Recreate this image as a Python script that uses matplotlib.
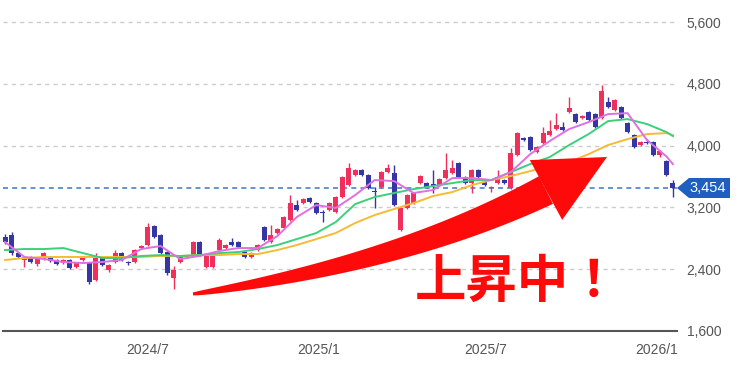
import numpy as np
import pandas as pd
import matplotlib
matplotlib.use("Agg")
import matplotlib.pyplot as plt
import matplotlib.dates as mdates
from matplotlib.patches import Polygon

# weekly candles, first week starting 2024-01-29
start = "2024-01-29"
opens = [2816, 2842, 2609, 2519, 2558, 2467, 2532, 2558, 2519, 2480,
         2519, 2428, 2519, 2480, 2260, 2545, 2389, 2493, 2609, 2493,
         2493, 2674, 2713, 2960, 2842, 2622, 2286, 2493, 2558, 2583,
         2752, 2428, 2428, 2648, 2674, 2752, 2752, 2622, 2558, 2648,
         2946, 2752, 2868, 2933, 3036, 3230, 3256, 3321, 3256, 3140,
         3166, 3140, 3334, 3489, 3619, 3683, 3619, 3412, 3463, 3657,
         3645, 2907, 3192, 3256, 3515, 3515, 3502, 3489, 3580, 3645,
         3774, 3593, 3515, 3683, 3528, 3450, 3515, 3554, 3450, 3877,
         4097, 4110, 3916, 4033, 4136, 4214, 4240, 4434, 4408, 4356,
         4434, 4408, 4356, 4563, 4460, 4499, 4292, 4136, 4007, 4046,
         4046, 3880, 3800, 3515]
closes = [2752, 2609, 2558, 2558, 2493, 2532, 2609, 2506, 2467, 2519,
          2415, 2480, 2545, 2234, 2545, 2454, 2454, 2609, 2519, 2480,
          2648, 2700, 2946, 2816, 2609, 2351, 2389, 2558, 2571, 2752,
          2583, 2583, 2609, 2778, 2713, 2713, 2687, 2558, 2609, 2713,
          2778, 2842, 2920, 3075, 3256, 3166, 3308, 3269, 3127, 3127,
          3256, 3334, 3593, 3709, 3683, 3619, 3450, 3399, 3657, 3709,
          3230, 3192, 3360, 3386, 3606, 3463, 3476, 3567, 3683, 3709,
          3593, 3515, 3683, 3593, 3489, 3463, 3593, 3515, 3903, 4162,
          4072, 3942, 3981, 4162, 4188, 4266, 4201, 4486, 4304, 4382,
          4330, 4240, 4705, 4499, 4589, 4356, 4175, 3981, 4046, 4033,
          3877, 3925, 3619, 3454]
highs = [2850, 2880, 2625, 2570, 2570, 2545, 2625, 2570, 2530, 2530,
         2530, 2490, 2560, 2495, 2610, 2560, 2465, 2650, 2625, 2510,
         2660, 2712, 2995, 2975, 2855, 2635, 2440, 2572, 2590, 2770,
         2765, 2597, 2620, 2800, 2728, 2810, 2765, 2635, 2620, 2725,
         2960, 2972, 2935, 3090, 3360, 3295, 3320, 3335, 3270, 3160,
         3270, 3350, 3610, 3774, 3700, 3700, 3635, 3463, 3670, 3760,
         3748, 3205, 3375, 3400, 3620, 3530, 3683, 3580, 3903, 3813,
         3790, 3610, 3700, 3700, 3545, 3480, 3683, 3570, 3968, 4175,
         4110, 4125, 3995, 4240, 4330, 4421, 4300, 4628, 4420, 4395,
         4450, 4420, 4790, 4628, 4600, 4510, 4305, 4150, 4060, 4090,
         4060, 3940, 3815, 3554]
lows = [2730, 2590, 2540, 2430, 2480, 2445, 2520, 2495, 2455, 2470,
        2400, 2420, 2505, 2205, 2250, 2440, 2370, 2480, 2505, 2455,
        2480, 2660, 2700, 2800, 2595, 2330, 2150, 2480, 2540, 2570,
        2570, 2415, 2415, 2635, 2662, 2700, 2675, 2545, 2545, 2635,
        2765, 2740, 2855, 2920, 3020, 3150, 3240, 3255, 3110, 3010,
        3150, 3125, 3320, 3475, 3605, 3605, 3435, 3192, 3450, 3645,
        3215, 2890, 3180, 3240, 3500, 3450, 3386, 3475, 3567, 3630,
        3580, 3500, 3386, 3580, 3475, 3400, 3500, 3500, 3440, 3860,
        4060, 3930, 3900, 4020, 4120, 4200, 4185, 4420, 4290, 4340,
        4315, 4225, 4340, 4485, 4445, 4340, 4160, 3965, 3990, 4020,
        3860, 3855, 3605, 3334]

# moving averages, every 3rd week (+ last week)
ma_weeks = list(range(0, 103, 3)) + [103]
ma_short = [2752, 2558, 2532, 2493, 2480, 2493, 2519, 2661, 2700, 2532,
            2571, 2635, 2674, 2674, 2829, 3075, 3230, 3192, 3360, 3554,
            3541, 3386, 3425, 3580, 3580, 3554, 3657, 3890, 4059, 4214,
            4304, 4408, 4420, 4072, 3860, 3760]
ma_mid = [2648, 2661, 2661, 2674, 2609, 2545, 2545, 2571, 2583, 2571,
          2583, 2609, 2622, 2661, 2713, 2790, 2868, 3010, 3243, 3334,
          3386, 3437, 3476, 3515, 3554, 3554, 3657, 3761, 3852, 4007,
          4149, 4317, 4343, 4279, 4175, 4123]
ma_long = [2519, 2545, 2558, 2558, 2558, 2558, 2558, 2558, 2571, 2571,
           2583, 2583, 2596, 2596, 2648, 2713, 2790, 2868, 2998, 3101,
           3179, 3256, 3347, 3399, 3489, 3554, 3606, 3670, 3735, 3787,
           3890, 4007, 4084, 4149, 4162, 4136]

last_price = 3454
yticks = [1600, 2400, 3200, 4000, 4800, 5600]
xtick_dates = ["2024-07-01", "2025-01-01", "2025-07-01", "2026-01-01"]
xtick_labels = ["2024/7", "2025/1", "2025/7", "2026/1"]

up_col = "#f0305c"
down_col = "#3535a5"

fig = plt.figure(figsize=(7.5, 3.67), dpi=100)
W, H = 750, 367
ax = fig.add_axes([3 / W, 1 - 331 / H, 674 / W, 331 / H])

dates = mdates.date2num(pd.date_range(start, periods=len(opens), freq="7D"))
o = np.array(opens)
c = np.array(closes)
cols = [up_col if cc >= oo else down_col for oo, cc in zip(o, c)]
ax.vlines(dates, lows, highs, color=cols, lw=1, zorder=3)
ax.bar(dates, np.maximum(np.abs(c - o), 14), bottom=np.minimum(o, c), width=5.4,
       color=cols, zorder=3)

ma_x = dates[ma_weeks]
ax.plot(ma_x, ma_long, color="#f5bb35", lw=1.4, zorder=4)
ax.plot(ma_x, ma_mid, color="#3dd07a", lw=1.4, zorder=4)
ax.plot(ma_x, ma_short, color="#e070e0", lw=1.4, zorder=4)

ax.axhline(last_price, color="#4a80cc", lw=1.2, ls=(0, (3, 2.5)), zorder=2)

ax.set_ylim(1600, 1600 + 331 * 800 / 61.8)
ax.set_xlim(dates[0] - 2.2, dates[0] + 725.4)
ax.set_yticks(yticks)
ax.set_yticklabels([f"{v:,}" for v in yticks])
ax.yaxis.tick_right()
ax.set_xticks(mdates.date2num(pd.to_datetime(xtick_dates)))
ax.set_xticklabels(xtick_labels)
ax.tick_params(length=0, labelsize=10, labelcolor="#555555")
ax.tick_params(axis="y", pad=7)
ax.tick_params(axis="x", pad=9)
for lab in ax.get_xticklabels() + ax.get_yticklabels():
    lab.set_family("Liberation Sans")
ax.grid(axis="y", color="#cccccc", lw=1, ls=(0, (3, 3)))
ax.set_axisbelow(True)
for s in ["top", "left", "right"]:
    ax.spines[s].set_visible(False)
ax.spines["bottom"].set_color("#555555")
ax.spines["bottom"].set_linewidth(1.5)

# overlay in picture pixels for the price tag, arrow and caption
ov = fig.add_axes([0, 0, 1, 1], zorder=5)
ov.set_xlim(0, W)
ov.set_ylim(H, 0)
ov.axis("off")

ov.add_patch(Polygon([(677, 188), (689, 178), (730, 178), (730, 198), (689, 198)],
                     closed=True, fc="#1e5fbf", ec="none"))
ov.text(708, 188.5, f"{last_price:,}", color="white", fontsize=10.5,
        family="Liberation Sans", ha="center", va="center")

# curved red arrow
p0 = np.array([193.0, 294.0])
p1 = np.array([400.0, 264.0])
p2 = np.array([546.0, 190.0])
t = np.linspace(0, 1, 80)[:, None]
cen = (1 - t) ** 2 * p0 + 2 * (1 - t) * t * p1 + t ** 2 * p2
tan = 2 * (1 - t) * (p1 - p0) + 2 * t * (p2 - p1)
tan = tan / np.linalg.norm(tan, axis=1, keepdims=True)
nrm = np.column_stack([-tan[:, 1], tan[:, 0]])
half = (3 + 28 * t[:, 0] ** 0.75) / 2
upper = cen + nrm * half[:, None]
lower = cen - nrm * half[:, None]
ov.add_patch(Polygon(np.vstack([upper, lower[::-1]]), closed=True, fc="#ff0a0a", ec="none"))
tip = np.array([607.0, 157.0])
d = (tip - p2) / np.linalg.norm(tip - p2)
pn = np.array([-d[1], d[0]])
ov.add_patch(Polygon([p2 + pn * 34, tip, p2 - pn * 34], closed=True, fc="#ff0a0a", ec="none"))

ov.text(415, 281, "上昇中！", color="#ff0a0a", fontsize=37, fontweight="bold",
        family=["Noto Sans CJK JP", "DejaVu Sans"], ha="left", va="center")

fig.savefig("out.png", dpi=100)
